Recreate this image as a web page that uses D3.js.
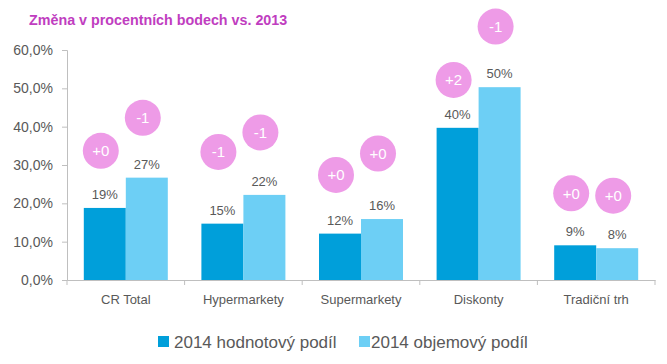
<!DOCTYPE html>
<html><head><meta charset="utf-8">
<script src="https://cdn.jsdelivr.net/npm/d3@7"></script>
<style>body{margin:0;background:#fff}svg{display:block;font-family:"Liberation Sans",Arial,sans-serif}</style>
</head><body>
<svg id="c" width="667" height="364"></svg>
<script>
const categories = ["CR Total","Hypermarkety","Supermarkety","Diskonty","Tradiční trh"];
const seriesNames = ["2014 hodnotový podíl","2014 objemový podíl"];
const valueShare = [18.8,14.7,12.1,39.7,9.05];
const volumeShare = [26.7,22.2,15.9,50.3,8.3];
const valueLabels = ["19%","15%","12%","40%","9%"];
const volumeLabels = ["27%","22%","16%","50%","8%"];
const valueChange = ["+0","-1","+0","+2","+0"];
const volumeChange = ["-1","-1","+0","-1","+0"];
// badge anchors expressed on the value axis (%)
const valueBadgeAt = [33.7,33.4,27.4,52.2,22.6];
const volumeBadgeAt = [42.3,38.5,33.0,66.1,22.0];
const yTicks = [0,10,20,30,40,50,60];
const title = "Změna v procentních bodech vs. 2013";

const colors = ["#009FDA","#6DCFF5"];
const svg = d3.select("#c");
const L=67,R=655,T=50,B=280;

const x = d3.scaleBand().domain(categories).range([L,R]).paddingInner(0).paddingOuter(0);
const xi = d3.scaleBand().domain([0,1]).range([0,x.bandwidth()]).paddingInner(0).paddingOuter(0.4);
const y = d3.scaleLinear().domain([0,60]).range([B,T]);

svg.append("text").attr("x",29).attr("y",25).attr("fill","#C03DC0")
  .attr("font-weight","bold").attr("font-size",14.3).text(title);

// y axis
const ya = svg.append("g").attr("transform",`translate(${L},0)`)
  .call(d3.axisLeft(y).tickValues(yTicks).tickSize(5).tickPadding(9)
    .tickFormat(d=>d3.format(".1f")(d).replace(".",",")+"%"));
ya.select(".domain").attr("stroke","#BFBFBF");
ya.selectAll(".tick line").attr("stroke","#BFBFBF");
ya.selectAll(".tick text").attr("fill","#595959").attr("font-size",14).attr("font-family","Liberation Sans, Arial, sans-serif");

// x axis
const xa = svg.append("g").attr("transform",`translate(0,${B})`)
  .call(d3.axisBottom(x).tickSize(0).tickPadding(15));
xa.select(".domain").attr("stroke","#BFBFBF");
xa.selectAll(".tick text").attr("fill","#595959").attr("font-size",13).attr("font-family","Liberation Sans, Arial, sans-serif");
const bounds = categories.map(c=>x(c)).concat([x(categories[categories.length-1])+x.bandwidth()]);
svg.append("g").selectAll("line").data(bounds).join("line")
  .attr("x1",d=>d).attr("x2",d=>d).attr("y1",B).attr("y2",B+5).attr("stroke","#BFBFBF");

const series = [
  {vals:valueShare,labels:valueLabels,chg:valueChange,badge:valueBadgeAt},
  {vals:volumeShare,labels:volumeLabels,chg:volumeChange,badge:volumeBadgeAt}
];
series.forEach((s,si)=>{
  const g = svg.append("g");
  categories.forEach((c,i)=>{
    const bx = x(c)+xi(si), bw = xi.bandwidth();
    g.append("rect").attr("x",bx).attr("y",y(s.vals[i])).attr("width",bw)
      .attr("height",B-y(s.vals[i])).attr("fill",colors[si]);
    g.append("text").attr("x",bx+bw/2).attr("y",y(s.vals[i])-9).attr("text-anchor","middle")
      .attr("fill","#595959").attr("font-size",13).text(s.labels[i]);
    const cx = bx+bw/2-4, cy = y(s.badge[i]);
    g.append("circle").attr("cx",cx).attr("cy",cy).attr("r",18).attr("fill","#EE9BE7");
    g.append("text").attr("x",cx).attr("y",cy+5.5).attr("text-anchor","middle")
      .attr("fill","#fff").attr("font-size",15).text(s.chg[i]);
  });
});

// legend
const leg = [{x:158,tx:174},{x:359,tx:371}];
seriesNames.forEach((n,i)=>{
  svg.append("rect").attr("x",leg[i].x).attr("y",336).attr("width",11).attr("height",11).attr("fill",colors[i]);
  svg.append("text").attr("x",leg[i].tx).attr("y",347.5).attr("fill","#595959").attr("font-size",17).text(n);
});
</script>
</body></html>
